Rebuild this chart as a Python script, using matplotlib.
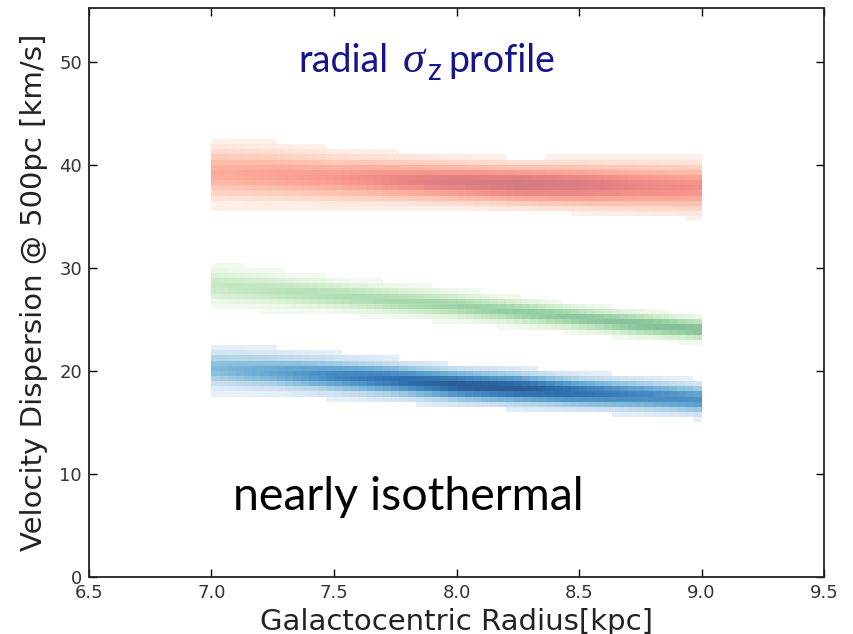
import numpy as np
import matplotlib
matplotlib.use("Agg")
import matplotlib.pyplot as plt

# ---- data ----
knot_r = [7.0, 7.25, 7.5, 7.75, 8.0, 8.25, 8.5, 8.75, 9.0]          # kpc
red_center = [39.2, 39.0, 38.7, 38.5, 38.3, 38.1, 38.0, 37.9, 37.8]
red_halfwidth = [3.5, 3.3, 3.0, 2.8, 2.6, 2.6, 2.8, 3.0, 3.1]
red_peak = [0.5, 0.55, 0.6, 0.7, 0.8, 0.85, 0.8, 0.7, 0.65]

green_center = [28.3, 27.8, 27.3, 26.8, 26.3, 25.7, 25.1, 24.5, 24.0]
green_halfwidth = [2.3, 2.1, 1.9, 1.8, 1.7, 1.6, 1.5, 1.5, 1.4]
green_peak = [0.4, 0.45, 0.5, 0.55, 0.6, 0.65, 0.7, 0.75, 0.75]

blue_center = [20.2, 19.9, 19.5, 19.1, 18.6, 18.3, 17.9, 17.6, 17.2]
blue_halfwidth = [2.5, 2.4, 2.3, 2.2, 2.1, 2.1, 2.0, 2.0, 2.0]
blue_peak = [0.5, 0.6, 0.75, 0.85, 0.95, 0.95, 0.85, 0.75, 0.7]

x_ticks = [6.5, 7.0, 7.5, 8.0, 8.5, 9.0, 9.5]
y_ticks = [0, 10, 20, 30, 40, 50]
x_label = "Galactocentric Radius[kpc]"
y_label = "Velocity Dispersion @ 500pc [km/s]"

# ---- figure ----
fig = plt.figure(figsize=(8.54, 6.34), dpi=100)
ax = fig.add_axes([0.1042, 0.0899, 0.8607, 0.8975])

x_edges = np.linspace(7.0, 9.0, 61)
y_edges = np.arange(10.0, 46.0001, 0.5)
xc = 0.5 * (x_edges[:-1] + x_edges[1:])
yc = 0.5 * (y_edges[:-1] + y_edges[1:])

def band(center, hw, peak):
    c = np.interp(xc, knot_r, center)
    w = np.interp(xc, knot_r, hw)
    p = np.interp(xc, knot_r, peak)
    d = yc[:, None] - c[None, :]
    val = p[None, :] * np.exp(-0.5 * (d / (w[None, :] / 2.0)) ** 2)
    val = np.maximum(val, 0.1)
    return np.ma.masked_where(np.abs(d) > w[None, :], val)

for cen, hw, pk, cmap, alpha in [
    (red_center, red_halfwidth, red_peak, "Reds", 0.55),
    (green_center, green_halfwidth, green_peak, "Greens", 0.55),
    (blue_center, blue_halfwidth, blue_peak, "Blues", 0.85),
]:
    ax.pcolormesh(x_edges, y_edges, band(cen, hw, pk), cmap=cmap,
                  vmin=0, vmax=1, alpha=alpha, shading="flat",
                  edgecolors="none", antialiased=False)

ax.set_xlim(6.5, 9.5)
ax.set_ylim(0, 55.2)
ax.set_xticks(x_ticks)
ax.set_yticks(y_ticks)
ax.tick_params(direction="in", length=6, width=1, top=True, right=True,
               labelsize=13, labelcolor="#333333", pad=5)
for s in ax.spines.values():
    s.set_linewidth(1.3)
    s.set_color("#222222")
ax.set_xlabel(x_label, fontsize=21, color="#222222", labelpad=4)
ax.set_ylabel(y_label, fontsize=21, color="#222222", labelpad=8)

# annotations
title_col = "#14148c"
ax.text(7.353, 49.0, "radial", fontsize=27, color=title_col,
        family="Lato", ha="left", va="baseline")
ax.text(7.782, 49.0, "σ", fontsize=32, color=title_col,
        family="Liberation Serif", style="italic", ha="left", va="baseline")
ax.text(7.880, 48.2, "z", fontsize=22, color=title_col,
        family="Lato", ha="left", va="baseline")
ax.text(7.965, 49.0, "profile", fontsize=27, color=title_col,
        family="Lato", ha="left", va="baseline")

ax.text(7.088, 6.5, "nearly isothermal", fontsize=33.5, color="black",
        family="Lato", ha="left", va="baseline")

fig.savefig("out.png", dpi=100)
